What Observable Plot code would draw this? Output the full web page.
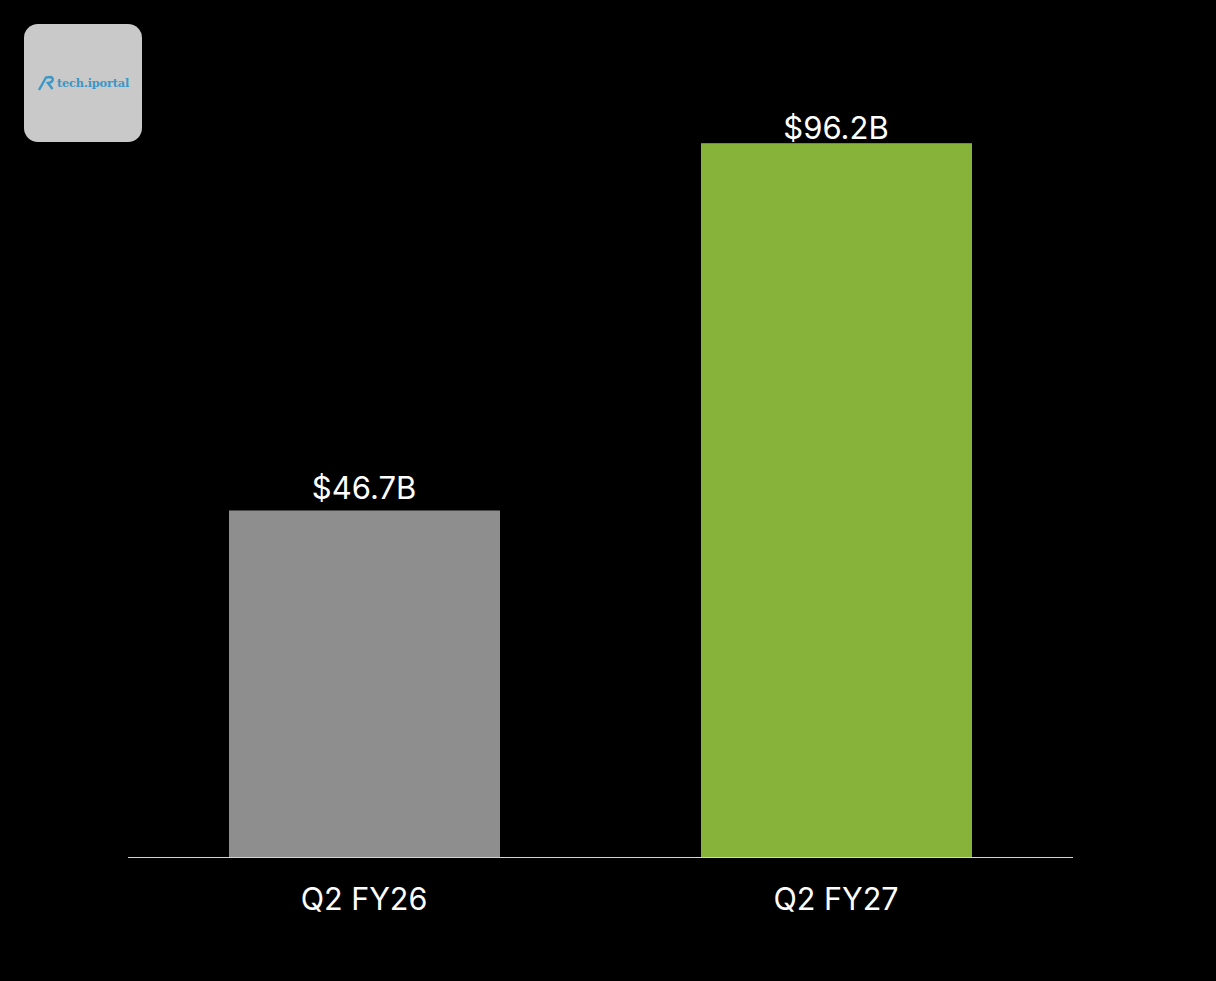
<!DOCTYPE html>
<html>
<head>
<meta charset="utf-8">
<script src="https://cdn.jsdelivr.net/npm/d3@7"></script>
<script src="https://cdn.jsdelivr.net/npm/@observablehq/plot@0.6"></script>
<style>
html,body{margin:0;padding:0;background:#000;width:1216px;height:981px;overflow:hidden}
#chart{position:absolute;left:0;top:0}
#logo{position:absolute;left:24px;top:24px;width:118px;height:118px;border-radius:14px;background:#c9c9c9;color:#3a97c6;font-family:"DejaVu Serif",serif;font-weight:700;white-space:nowrap}
#logo span{position:absolute;left:33px;top:51px;font-size:11.4px;line-height:16px;letter-spacing:-.2px}
#logo svg{position:absolute;left:13px;top:49px}
</style>
</head>
<body>
<div id="chart"></div>
<div id="logo">
  <svg width="20" height="20" viewBox="0 0 20 20" fill="none" stroke="#3a97c6" stroke-width="2.4">
    <path d="M2 17 L9 4.5 L13 4 C17 4 17 9.5 11 10 L15.5 16"/>
  </svg>
  <span>tech.iportal</span>
</div>
<script>
const quarters = ["Q2 FY26", "Q2 FY27"];
const revenue = [46.7, 96.2];
const valueLabels = ["$46.7B", "$96.2B"];
const barColors = ["#8e8e8e", "#87b33a"];

const rows = quarters.map((q, i) => ({q, v: revenue[i], label: valueLabels[i], color: barColors[i]}));

const plot = Plot.plot({
  width: 1216,
  height: 981,
  marginLeft: 128,
  marginRight: 143,
  marginTop: 115,
  marginBottom: 124,
  style: {background: "#000", color: "#fff", fontFamily: "Inter, sans-serif", fontSize: "30.5px"},
  x: {domain: quarters, paddingInner: 0.426, paddingOuter: 0.213, label: null},
  y: {domain: [0, 100], axis: null},
  marks: [
    Plot.barY(rows, {x: "q", y: "v", fill: d => d.color}),
    Plot.ruleY([0], {stroke: "#d4d4d4", strokeWidth: 1}),
    Plot.text(rows.slice(0, 1), {x: "q", y: "v", text: "label", dy: -22, dx: -1, fill: "#fff", fontSize: 31, lineAnchor: "middle"}),
    Plot.text(rows.slice(1), {x: "q", y: "v", text: "label", dy: -15, dx: -1, fill: "#fff", fontSize: 31, lineAnchor: "middle"}),
    Plot.axisX({tickSize: 0, tickPadding: 0, fontSize: 30.5, fill: "#fff", dy: 30.5, dx: -1, label: null})
  ]
});
document.getElementById("chart").appendChild(plot);
</script>
</body>
</html>
